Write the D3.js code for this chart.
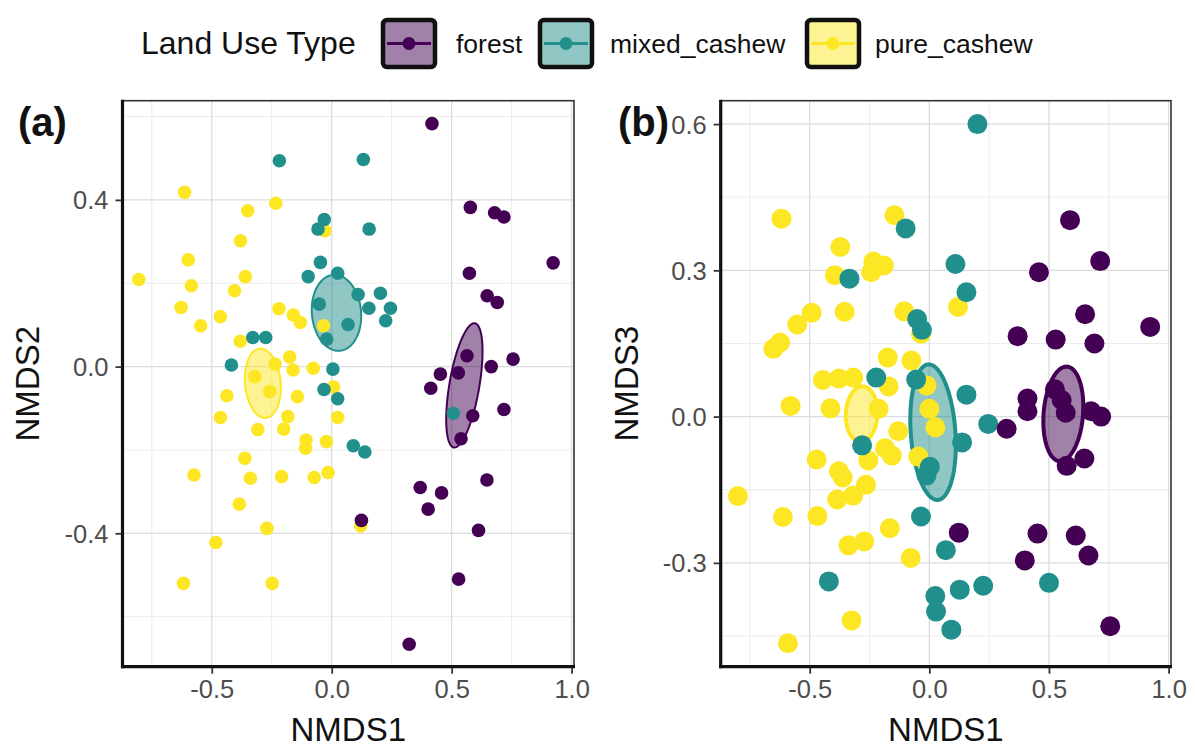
<!DOCTYPE html>
<html>
<head>
<meta charset="utf-8">
<script src="https://cdn.jsdelivr.net/npm/d3@7"></script>
<style>
  html, body { margin: 0; padding: 0; background: #fff; }
  svg { display: block; font-family: "Liberation Sans", Arial, sans-serif; }
</style>
</head>
<body>
<svg id="chart" width="1195" height="751"></svg>
<script>
// ---------------- DATA ----------------
const groups = ["forest", "mixed_cashew", "pure_cashew"];
const groupColors = ["#440154", "#21908C", "#FDE725"];
const legendTitle = "Land Use Type";

const xTicks = [-0.5, 0, 0.5, 1.0];
const yTicksA = [-0.4, 0, 0.4];
const yTicksB = [-0.3, 0, 0.3, 0.6];
const xMinorTicks = [-0.75, -0.25, 0.25, 0.75];
const yMinorTicksA = [-0.6, -0.2, 0.2, 0.6];
const yMinorTicksB = [-0.45, -0.15, 0.15, 0.45];

// axis limits (ggplot expanded ranges)
const xLimits = [-0.872, 1.01];
const yLimitsA = [-0.72, 0.638];
const yLimitsB = [-0.513, 0.648];

// Panel (a): NMDS1 vs NMDS2
const pureA = [
  [-0.613,0.418],[-0.233,0.392],[-0.350,0.374],[-0.380,0.302],[-0.028,0.326],
  [-0.598,0.256],[-0.804,0.209],[-0.360,0.216],[-0.585,0.194],[-0.405,0.182],
  [-0.628,0.142],[-0.464,0.120],[-0.546,0.098],[-0.220,0.139],[-0.160,0.124],
  [-0.131,0.106],[-0.034,0.098],[-0.381,0.061],[-0.236,0.006],[-0.175,0.023],
  [-0.161,-0.008],[-0.077,-0.004],[-0.320,-0.024],[-0.258,-0.060],[-0.437,-0.070],
  [-0.143,-0.072],[-0.464,-0.122],[-0.183,-0.120],[0.008,-0.049],[0.025,-0.122],
  [-0.308,-0.151],[-0.200,-0.150],[-0.107,-0.176],[-0.109,-0.196],[-0.022,-0.180],
  [-0.362,-0.220],[-0.574,-0.260],[-0.339,-0.268],[-0.209,-0.264],[-0.073,-0.266],
  [-0.015,-0.254],[-0.385,-0.330],[-0.270,-0.388],[-0.483,-0.422],[0.121,-0.382],
  [-0.618,-0.520],[-0.248,-0.520]
];
const mixedA = [
  [-0.218,0.494],[0.132,0.497],[-0.031,0.353],[-0.057,0.330],[0.156,0.330],
  [-0.047,0.250],[-0.098,0.216],[0.025,0.224],[0.110,0.173],[0.203,0.176],
  [0.155,0.140],[0.245,0.140],[0.225,0.110],[-0.052,0.150],[0.068,0.101],
  [-0.021,0.066],[-0.329,0.070],[-0.275,0.070],[-0.418,0.004],[0.005,-0.006],
  [-0.032,-0.055],[0.025,-0.077],[0.090,-0.190],[0.138,-0.205],[0.507,-0.112]
];
const forestA = [
  [0.418,0.583],[0.578,0.382],[0.679,0.369],[0.718,0.359],[0.923,0.249],
  [0.574,0.224],[0.648,0.170],[0.690,0.154],[0.564,0.026],[0.665,0.000],
  [0.756,0.018],[0.528,-0.015],[0.453,-0.018],[0.413,-0.052],[0.588,-0.118],
  [0.718,-0.103],[0.539,-0.173],[0.647,-0.272],[0.369,-0.290],[0.458,-0.303],
  [0.402,-0.342],[0.124,-0.369],[0.612,-0.393],[0.529,-0.510],[0.323,-0.666]
];

// Panel (b): NMDS1 vs NMDS3
const pureB = [
  [-0.618,0.406],[-0.146,0.413],[-0.372,0.348],[-0.395,0.290],[-0.234,0.318],
  [-0.190,0.310],[-0.243,0.296],[-0.492,0.213],[-0.552,0.189],[-0.624,0.152],
  [-0.652,0.139],[-0.354,0.215],[-0.105,0.216],[-0.035,0.170],[0.120,0.225],
  [-0.174,0.121],[-0.075,0.115],[-0.445,0.075],[-0.378,0.078],[-0.318,0.080],
  [-0.170,0.062],[-0.580,0.022],[-0.413,0.017],[-0.212,0.016],[-0.012,0.064],
  [0.000,0.016],[0.025,-0.022],[-0.130,-0.030],[-0.185,-0.065],[-0.157,-0.080],
  [-0.046,-0.082],[-0.471,-0.088],[-0.378,-0.112],[-0.362,-0.125],[-0.255,-0.090],
  [-0.265,-0.140],[-0.318,-0.162],[-0.385,-0.170],[-0.800,-0.163],[-0.612,-0.206],
  [-0.468,-0.204],[-0.165,-0.229],[-0.338,-0.264],[-0.272,-0.256],[-0.078,-0.290],
  [-0.325,-0.418],[-0.591,-0.465]
];
const mixedB = [
  [0.201,0.600],[-0.099,0.386],[-0.334,0.283],[0.109,0.313],[0.155,0.255],
  [-0.051,0.200],[-0.031,0.178],[-0.222,0.080],[-0.055,0.076],[0.155,0.045],
  [0.246,-0.015],[0.137,-0.053],[-0.281,-0.059],[0.002,-0.103],[-0.012,-0.121],
  [-0.035,-0.205],[0.069,-0.274],[-0.420,-0.338],[0.025,-0.368],[0.028,-0.400],
  [0.127,-0.355],[0.225,-0.347],[0.092,-0.437],[0.500,-0.341]
];
const forestB = [
  [0.588,0.403],[0.714,0.319],[0.458,0.296],[0.651,0.210],[0.923,0.184],
  [0.369,0.165],[0.528,0.158],[0.690,0.150],[0.525,0.056],[0.553,0.034],
  [0.570,0.008],[0.410,0.037],[0.410,0.011],[0.676,0.011],[0.718,0.000],
  [0.323,-0.025],[0.648,-0.086],[0.574,-0.101],[0.123,-0.238],[0.452,-0.240],
  [0.612,-0.244],[0.399,-0.295],[0.665,-0.285],[0.756,-0.430]
];

// Ellipses: [centerX, centerY, majorDx, majorDy, minorDx, minorDy] (data units)
const ellipseForestA = [0.553, -0.045, 0.044, 0.149, 0.0616, -0.0061];
const ellipseMixedA  = [0.020, 0.129, -0.015, 0.091, 0.102, 0.006];
const ellipsePureA   = [-0.287, -0.040, -0.013, 0.083, 0.074, 0.004];
const ellipseForestB = [0.560, 0.0055, 0.016, 0.097, 0.082, -0.0035];
const ellipseMixedB  = [0.0155, -0.032, -0.020, 0.139, 0.093, 0.0033];
const ellipsePureB   = [-0.283, 0.005, 0.004, 0.057, 0.066, -0.0005];

// ---------------- DRAW ----------------
const svg = d3.select("#chart");
const FONT = "'Liberation Sans', Arial, sans-serif";

function fmt(d) { return d.toFixed(1); }

function ellipsePoints(e) {
  const pts = [];
  for (let i = 0; i <= 120; i++) {
    const t = (i / 120) * 2 * Math.PI;
    pts.push([e[0] + e[2] * Math.cos(t) + e[4] * Math.sin(t),
              e[1] + e[3] * Math.cos(t) + e[5] * Math.sin(t)]);
  }
  return pts;
}

function drawPanel(cfg) {
  const g = svg.append("g");
  const x = d3.scaleLinear().domain(xLimits).range([cfg.left, cfg.right]);
  const y = d3.scaleLinear().domain(cfg.yLimits).range([cfg.bottom, cfg.top]);

  g.append("rect").attr("x", cfg.left).attr("y", cfg.top)
    .attr("width", cfg.right - cfg.left).attr("height", cfg.bottom - cfg.top)
    .attr("fill", "#fff");

  // minor grid
  g.selectAll(".vminor").data(xMinorTicks).join("line")
    .attr("x1", d => x(d)).attr("x2", d => x(d)).attr("y1", cfg.top).attr("y2", cfg.bottom)
    .attr("stroke", "#ececec").attr("stroke-width", 1);
  g.selectAll(".hminor").data(cfg.yMinor).join("line")
    .attr("y1", d => y(d)).attr("y2", d => y(d)).attr("x1", cfg.left).attr("x2", cfg.right)
    .attr("stroke", "#ececec").attr("stroke-width", 1);
  // major grid
  g.selectAll(".vmajor").data(xTicks).join("line")
    .attr("x1", d => x(d)).attr("x2", d => x(d)).attr("y1", cfg.top).attr("y2", cfg.bottom)
    .attr("stroke", "#dcdcdc").attr("stroke-width", 1.3);
  g.selectAll(".hmajor").data(cfg.yTicks).join("line")
    .attr("y1", d => y(d)).attr("y2", d => y(d)).attr("x1", cfg.left).attr("x2", cfg.right)
    .attr("stroke", "#dcdcdc").attr("stroke-width", 1.3);

  // ellipses
  const line = d3.line().x(d => x(d[0])).y(d => y(d[1])).curve(d3.curveLinearClosed);
  cfg.ellipses.forEach((e, i) => {
    g.append("path").attr("d", line(ellipsePoints(e)))
      .attr("fill", groupColors[i]).attr("fill-opacity", 0.5)
      .attr("stroke", groupColors[i]).attr("stroke-width", cfg.ellipseStroke);
  });

  // points: pure, mixed, forest order
  [2, 1, 0].forEach(i => {
    g.selectAll(".pt" + i).data(cfg.points[i]).join("circle")
      .attr("cx", d => x(d[0])).attr("cy", d => y(d[1]))
      .attr("r", cfg.r).attr("fill", groupColors[i]);
  });

  // border
  g.append("rect").attr("x", cfg.left).attr("y", cfg.top)
    .attr("width", cfg.right - cfg.left).attr("height", cfg.bottom - cfg.top)
    .attr("fill", "none").attr("stroke", "#333").attr("stroke-width", 1.6);
  g.append("line").attr("x1", cfg.left).attr("x2", cfg.left).attr("y1", cfg.top - 1).attr("y2", cfg.bottom + 1.5)
    .attr("stroke", "#111").attr("stroke-width", 3.2);
  g.append("line").attr("x1", cfg.left - 1.5).attr("x2", cfg.right + 1).attr("y1", cfg.bottom).attr("y2", cfg.bottom)
    .attr("stroke", "#111").attr("stroke-width", 3.2);

  // axes
  const xAxis = d3.axisBottom(x).tickValues(xTicks).tickFormat(fmt).tickSize(6).tickPadding(6);
  const gx = g.append("g").attr("transform", `translate(0,${cfg.bottom + 1})`).call(xAxis);
  gx.select(".domain").remove();
  gx.selectAll(".tick line").attr("stroke", "#333").attr("stroke-width", 1.8);
  gx.selectAll(".tick text").attr("fill", "#4d4d4d").attr("font-size", 25.5)
    .attr("font-family", FONT).attr("dy", "0.72em");

  const yAxis = d3.axisLeft(y).tickValues(cfg.yTicks).tickFormat(fmt).tickSize(6).tickPadding(7);
  const gy = g.append("g").attr("transform", `translate(${cfg.left - 1},0)`).call(yAxis);
  gy.select(".domain").remove();
  gy.selectAll(".tick line").attr("stroke", "#333").attr("stroke-width", 1.8);
  gy.selectAll(".tick text").attr("fill", "#4d4d4d").attr("font-size", 25.5)
    .attr("font-family", FONT).attr("dy", "0.35em");

  // axis titles
  g.append("text").attr("x", (cfg.left + cfg.right) / 2).attr("y", 741)
    .attr("text-anchor", "middle").attr("font-size", 33).attr("font-family", FONT)
    .attr("fill", "#111").text("NMDS1");
  g.append("text")
    .attr("transform", `translate(${cfg.yTitleX},${(cfg.top + cfg.bottom) / 2}) rotate(-90)`)
    .attr("text-anchor", "middle").attr("font-size", 33).attr("font-family", FONT)
    .attr("fill", "#111").text(cfg.yTitle);

  // panel tag
  g.append("text").attr("x", cfg.tagX).attr("y", 136)
    .attr("font-size", 40).attr("font-weight", "bold").attr("font-family", FONT)
    .attr("fill", "#111").text(cfg.tag);
}

drawPanel({
  left: 122.5, right: 574, top: 100.7, bottom: 666.7,
  yLimits: yLimitsA, yTicks: yTicksA, yMinor: yMinorTicksA,
  points: [forestA, mixedA, pureA],
  ellipses: [ellipseForestA, ellipseMixedA, ellipsePureA],
  ellipseStroke: 2, r: 6.8,
  yTitle: "NMDS2", yTitleX: 39, tag: "(a)", tagX: 18
});
drawPanel({
  left: 720.7, right: 1171, top: 100.7, bottom: 666.7,
  yLimits: yLimitsB, yTicks: yTicksB, yMinor: yMinorTicksB,
  points: [forestB, mixedB, pureB],
  ellipses: [ellipseForestB, ellipseMixedB, ellipsePureB],
  ellipseStroke: 4, r: 10,
  yTitle: "NMDS3", yTitleX: 638, tag: "(b)", tagX: 618
});

// ---------------- LEGEND ----------------
const leg = svg.append("g");
leg.append("text").attr("x", 141).attr("y", 54).attr("font-size", 32)
  .attr("font-family", FONT).attr("fill", "#111").text(legendTitle);
const keyX = [381, 538, 805];
const labelX = [456, 610, 875];
groups.forEach((grp, i) => {
  const kx = keyX[i];
  leg.append("rect").attr("x", kx + 2).attr("y", 20).attr("width", 52).attr("height", 47)
    .attr("rx", 4).attr("fill", groupColors[i]).attr("fill-opacity", 0.5)
    .attr("stroke", "#111").attr("stroke-width", 4.5);
  leg.append("line").attr("x1", kx + 6).attr("x2", kx + 50).attr("y1", 43.5).attr("y2", 43.5)
    .attr("stroke", groupColors[i]).attr("stroke-width", 3);
  leg.append("circle").attr("cx", kx + 28).attr("cy", 43.5).attr("r", 6.5)
    .attr("fill", groupColors[i]);
  leg.append("text").attr("x", labelX[i]).attr("y", 53).attr("font-size", 26.5)
    .attr("font-family", FONT).attr("fill", "#111").text(grp);
});
</script>
</body>
</html>
